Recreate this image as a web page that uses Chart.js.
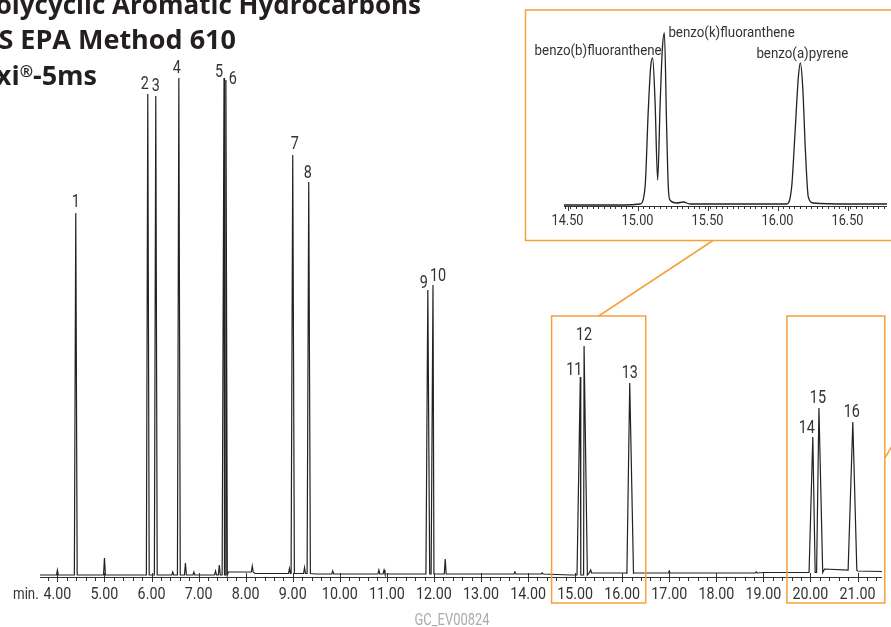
<!DOCTYPE html>
<html>
<head>
<meta charset="utf-8">
<script src="https://cdn.jsdelivr.net/npm/chart.js@4.4.0/dist/chart.umd.min.js"></script>
<style>
  html, body { margin: 0; padding: 0; background: #fff; }
  #wrap { position: relative; width: 891px; height: 627px; overflow: hidden; }
  #main { position: absolute; left: 0; top: 0; width: 891px; height: 627px; }
  #inset { position: absolute; left: 527px; top: 12px; width: 364px; height: 227px; }
</style>
</head>
<body>
<div id="wrap">
  <div id="main"><canvas id="mainChart"></canvas></div>
  <div id="inset"><canvas id="insetChart"></canvas></div>
</div>
<script>
// main chromatogram: numbered peaks (retention time in min, signal)
const peakLabels = ["1", "2", "3", "4", "5", "6", "7", "8", "9", "10", "11", "12", "13", "14", "15", "16"];
const peakTimes = [4.39, 5.92, 6.09, 6.58, 7.54, 7.58, 9.00, 9.34, 11.87, 11.98, 15.11, 15.19, 16.16, 20.05, 20.18, 20.90];
const peakHeights = [362, 481, 479, 497, 497, 495, 420, 393, 285, 290, 198, 229, 192, 138, 167, 153];
const peakWidths = [0.03, 0.03, 0.03, 0.03, 0.03, 0.03, 0.035, 0.035, 0.04, 0.04, 0.07, 0.07, 0.08, 0.08, 0.08, 0.085];

// small unlabelled peaks
const minorTimes = [4.00, 5.00, 6.45, 6.72, 6.90, 7.36, 7.44, 8.14, 8.93, 9.25, 9.85, 10.83, 10.94, 12.24, 13.72, 14.30, 15.33, 17.00, 18.85];
const minorHeights = [5, 17, 3, 12, 3, 4, 10, 6, 5, 6, 3, 4, 4, 15, 2, 1, 3, 2, 1];

// baseline drift
const baseTimes = [3.63, 7.50, 7.63, 8.20, 9.50, 12.00, 14.90, 15.30, 16.10, 16.26, 19.00, 19.95, 20.30, 20.80, 21.00, 21.52];
const baseLevels = [0, 0, 3, 1.5, 1, 1, 0, 2, 1.7, 2, 2.5, 2.5, 6, 5, 4, 3.5];

const xTicks = [4, 5, 6, 7, 8, 9, 10, 11, 12, 13, 14, 15, 16, 17, 18, 19, 20, 21];
const zoomWindows = [[14.5, 16.5], [19.5, 21.58]];

// inset: benzo fluoranthenes / benzo(a)pyrene region
const insetTimes = [14.475, 14.90, 15.018, 15.054, 15.077, 15.094, 15.108, 15.125, 15.144, 15.161, 15.177, 15.192, 15.208, 15.220, 15.232, 15.28, 15.327, 15.375, 15.80, 16.066, 16.101, 16.125, 16.149, 16.163, 16.180, 16.199, 16.220, 16.256, 16.50, 16.782];
const insetSignal = [0, 0, 1, 18, 95, 138, 147, 105, 25, 98, 155, 172, 78, 18, 5, 2, 3, 1, 1, 1, 18, 72, 128, 142, 118, 55, 8, 2, 1, 1];
const insetNames = ["benzo(b)fluoranthene", "benzo(k)fluoranthene", "benzo(a)pyrene"];
const insetNameTimes = [15.108, 15.192, 16.163];
const insetNameHeights = [147, 172, 142];
const insetTicks = [14.5, 15.0, 15.5, 16.0, 16.5];

// label nudges (px)
const labelDx = [0, -3, 0, -2, -5, 7, 2, -1, -4, 5, -6, 0, 0, -6, -1, -1];
const labelDy = [6, 5, 5, 5, 1, -4, 6, 4, 2, 4, 2, 6, 5, 4, 5, 5];

const ORANGE = "#f6a03c";
const INK = "#222";
const SANS = 'Roboto, "Noto Sans", sans-serif';

function baseAt(t) {
  let lvl = baseLevels[0];
  for (let i = 0; i < baseTimes.length; i++) {
    if (baseTimes[i] <= t) lvl = baseLevels[i];
  }
  return lvl;
}

function buildTrace() {
  const pts = baseTimes.map((t, i) => ({ x: t, y: baseLevels[i] }));
  peakTimes.forEach((t, i) => {
    const w = peakWidths[i];
    pts.push({ x: t - w, y: baseAt(t - w) }, { x: t, y: peakHeights[i] }, { x: t + w, y: baseAt(t + w) });
  });
  minorTimes.forEach((t, i) => {
    const b = baseAt(t);
    pts.push({ x: t - 0.02, y: b }, { x: t, y: b + minorHeights[i] }, { x: t + 0.02, y: b });
  });
  return pts.sort((a, b) => a.x - b.x);
}

// condensed text: the original uses a narrow face, so squeeze Roboto
function narrow(ctx, text, x, y, align, sx) {
  ctx.save();
  ctx.translate(x, y);
  ctx.scale(sx, 1);
  ctx.textAlign = align;
  ctx.fillText(text, 0, 0);
  ctx.restore();
}

const mainDecor = {
  id: "mainDecor",
  afterDraw(chart) {
    const ctx = chart.ctx;
    const xs = chart.scales.x;
    const ys = chart.scales.y;
    const area = chart.chartArea;
    const axisY = area.bottom;
    ctx.save();

    // axis line + ticks
    ctx.strokeStyle = "#333";
    ctx.lineWidth = 1;
    ctx.beginPath();
    ctx.moveTo(area.left, axisY + 0.5);
    ctx.lineTo(area.right, axisY + 0.5);
    for (let i = 19; i <= 107; i++) {
      const px = Math.round(xs.getPixelForValue(i / 5)) + 0.5;
      if (i % 5 === 0) {
        ctx.moveTo(px, axisY - 4);
        ctx.lineTo(px, axisY + 5);
      } else {
        ctx.moveTo(px, axisY);
        ctx.lineTo(px, axisY + 4);
      }
    }
    ctx.stroke();

    ctx.fillStyle = "#333";
    ctx.font = "17px " + SANS;
    ctx.textBaseline = "alphabetic";
    xTicks.forEach((t) => {
      narrow(ctx, t.toFixed(2), xs.getPixelForValue(t), 599, "center", 0.84);
    });
    narrow(ctx, "min.", 13, 599, "left", 0.78);

    // peak numbers
    ctx.font = "18px " + SANS;
    peakLabels.forEach((lab, i) => {
      const px = xs.getPixelForValue(peakTimes[i]) + labelDx[i];
      const py = ys.getPixelForValue(peakHeights[i]) - labelDy[i];
      narrow(ctx, lab, px, py, "center", 0.8);
    });

    // zoom boxes and connectors
    ctx.strokeStyle = ORANGE;
    ctx.lineWidth = 1.5;
    zoomWindows.forEach(([a, b]) => {
      const x0 = xs.getPixelForValue(a);
      const x1 = xs.getPixelForValue(b);
      ctx.strokeRect(x0, 316, x1 - x0, 287);
    });
    ctx.strokeRect(525.5, 10, 400, 230.5);
    ctx.beginPath();
    const mid = xs.getPixelForValue((zoomWindows[0][0] + zoomWindows[0][1]) / 2);
    ctx.moveTo(mid, 316);
    ctx.lineTo(713, 240.5);
    const rEdge = xs.getPixelForValue(zoomWindows[1][1]);
    ctx.moveTo(rEdge, 458);
    ctx.lineTo(rEdge + 20, 425);
    ctx.stroke();

    // title block
    ctx.fillStyle = "#231f20";
    ctx.textAlign = "right";
    ctx.font = 'bold 26px "Open Sans", sans-serif';
    ctx.fillText("Polycyclic Aromatic Hydrocarbons", 421, 14);
    ctx.font = 'bold 27px "Open Sans", sans-serif';
    ctx.fillText("US EPA Method 610", 236, 49);
    const tail = "-5ms";
    ctx.fillText(tail, 97, 85);
    const tailW = ctx.measureText(tail).width;
    ctx.font = 'bold 16px "Open Sans", sans-serif';
    const reg = "\u00ae";
    ctx.fillText(reg, 97 - tailW, 77);
    const regW = ctx.measureText(reg).width;
    ctx.font = 'bold 27px "Open Sans", sans-serif';
    ctx.fillText("Rxi", 97 - tailW - regW, 85);

    // figure code
    ctx.fillStyle = "#aaa";
    ctx.font = "17px " + SANS;
    narrow(ctx, "GC_EV00824", 452, 625, "center", 0.76);
    ctx.restore();
  }
};

new Chart(document.getElementById("mainChart"), {
  type: "line",
  data: {
    datasets: [{
      data: buildTrace(),
      borderColor: INK,
      borderWidth: 1.2,
      pointRadius: 0,
      tension: 0,
      fill: false
    }]
  },
  options: {
    responsive: true,
    maintainAspectRatio: false,
    animation: false,
    events: [],
    layout: { padding: { left: 40, right: 9, top: 60, bottom: 50 } },
    scales: {
      x: { type: "linear", min: 3.63, max: 21.52, display: false },
      y: { type: "linear", min: -2, max: 515, display: false }
    },
    plugins: { legend: { display: false }, tooltip: { enabled: false } }
  },
  plugins: [mainDecor]
});

const insetDecor = {
  id: "insetDecor",
  afterDraw(chart) {
    const ctx = chart.ctx;
    const xs = chart.scales.x;
    const ys = chart.scales.y;
    const area = chart.chartArea;
    const axisY = area.bottom;
    ctx.save();
    ctx.strokeStyle = "#333";
    ctx.lineWidth = 1;
    ctx.beginPath();
    ctx.moveTo(area.left, axisY + 0.5);
    ctx.lineTo(area.right, axisY + 0.5);
    for (let i = 0; i <= 57; i++) {
      const t = 14.48 + i * 0.04;
      if (t > xs.max) break;
      const px = Math.round(xs.getPixelForValue(t)) + 0.5;
      ctx.moveTo(px, axisY);
      ctx.lineTo(px, axisY + 3);
    }
    insetTicks.forEach((t) => {
      const px = Math.round(xs.getPixelForValue(t)) + 0.5;
      ctx.moveTo(px, axisY);
      ctx.lineTo(px, axisY + 5);
    });
    ctx.stroke();

    ctx.fillStyle = "#333";
    ctx.font = "15px " + SANS;
    insetTicks.forEach((t) => {
      narrow(ctx, t.toFixed(2), xs.getPixelForValue(t), 213, "center", 0.85);
    });

    ctx.font = "14px " + SANS;
    const aligns = ["right", "left", "center"];
    const dx = [9, 4, 2];
    const dy = [3, -4, 5];
    insetNames.forEach((name, i) => {
      narrow(ctx, name, xs.getPixelForValue(insetNameTimes[i]) + dx[i],
        ys.getPixelForValue(insetNameHeights[i]) - dy[i], aligns[i], 0.95);
    });
    ctx.restore();
  }
};

new Chart(document.getElementById("insetChart"), {
  type: "line",
  data: {
    datasets: [{
      data: insetTimes.map((t, i) => ({ x: t, y: insetSignal[i] })),
      borderColor: INK,
      borderWidth: 1.3,
      pointRadius: 0,
      cubicInterpolationMode: "monotone",
      fill: false
    }]
  },
  options: {
    responsive: true,
    maintainAspectRatio: false,
    animation: false,
    events: [],
    layout: { padding: { left: 37, right: 4, top: 0, bottom: 33 } },
    scales: {
      x: { type: "linear", min: 14.475, max: 16.782, display: false },
      y: { type: "linear", min: -1, max: 193, display: false }
    },
    plugins: { legend: { display: false }, tooltip: { enabled: false } }
  },
  plugins: [insetDecor]
});
</script>
</body>
</html>
